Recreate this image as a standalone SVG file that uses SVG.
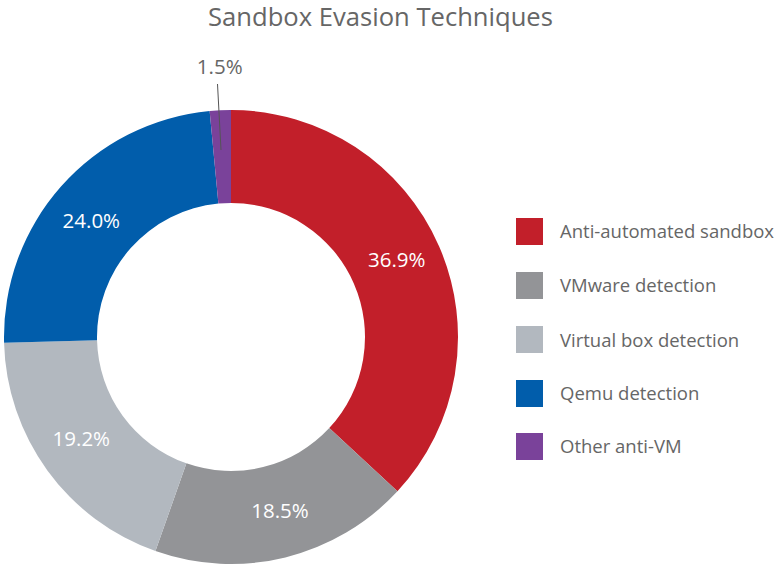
<svg xmlns="http://www.w3.org/2000/svg" width="775" height="565" viewBox="0 0 775 565">
<style>
text{font-family:"Open Sans","Liberation Sans",sans-serif;}
.title{font-size:25.6px;fill:#666;text-anchor:middle;}
.val{font-size:20.5px;fill:#fff;text-anchor:middle;}
.leg{font-size:18.5px;fill:#666;}
.red{fill:#c21f2a}.gray{fill:#939497}.light{fill:#b2b8bf}.blue{fill:#015dab}.purple{fill:#7a429a}
</style>
<rect width="775" height="565" fill="#fff"/>
<text class="title" x="380.5" y="25.5">Sandbox Evasion Techniques</text>
<g id="slice-anti-automated">
<path class="red" d="M231,110 A227,227 0 0 1 397.45,491.35 L329.26,428.11 A134,134 0 0 0 231,203 Z"/>
<text class="val" x="396.7" y="266.7">36.9%</text>
</g>
<g id="slice-vmware">
<path class="gray" d="M397.45,491.35 A227,227 0 0 1 155.46,551.06 L186.41,463.36 A134,134 0 0 0 329.26,428.11 Z"/>
<text class="val" x="280" y="518.3">18.5%</text>
</g>
<g id="slice-virtualbox">
<path class="light" d="M155.46,551.06 A227,227 0 0 1 4.07,342.70 L97.04,340.37 A134,134 0 0 0 186.41,463.36 Z"/>
<text class="val" x="81.3" y="446">19.2%</text>
</g>
<g id="slice-qemu">
<path class="blue" d="M4.07,342.70 A227,227 0 0 1 209.64,111 L218.39,203.6 A134,134 0 0 0 97.04,340.37 Z"/>
<text class="val" x="91.3" y="228.3">24.0%</text>
</g>
<g id="slice-other">
<path class="purple" d="M209.64,111 A227,227 0 0 1 231,110 L231,203 A134,134 0 0 0 218.39,203.6 Z"/>
</g>
<g id="connectors">
<line x1="217.5" y1="84" x2="221" y2="150" stroke="#555" stroke-width="1"/>
</g>
<text x="219.7" y="74" style="font-size:20.5px;fill:#666;text-anchor:middle">1.5%</text>
<g id="legend">
<g id="legend-anti"><rect class="red" x="516" y="218" width="27" height="27"/><text class="leg" x="560" y="238.3">Anti-automated sandbox</text></g>
<g id="legend-vmware"><rect class="gray" x="516" y="272" width="27" height="27"/><text class="leg" x="560" y="291.7">VMware detection</text></g>
<g id="legend-vbox"><rect class="light" x="516" y="326" width="27" height="27"/><text class="leg" x="560" y="347.3">Virtual box detection</text></g>
<g id="legend-qemu"><rect class="blue" x="516" y="380" width="27" height="27"/><text class="leg" x="560" y="400">Qemu detection</text></g>
<g id="legend-other"><rect class="purple" x="516" y="433" width="27" height="27"/><text class="leg" x="560" y="453.3">Other anti-VM</text></g>
</g>
</svg>
